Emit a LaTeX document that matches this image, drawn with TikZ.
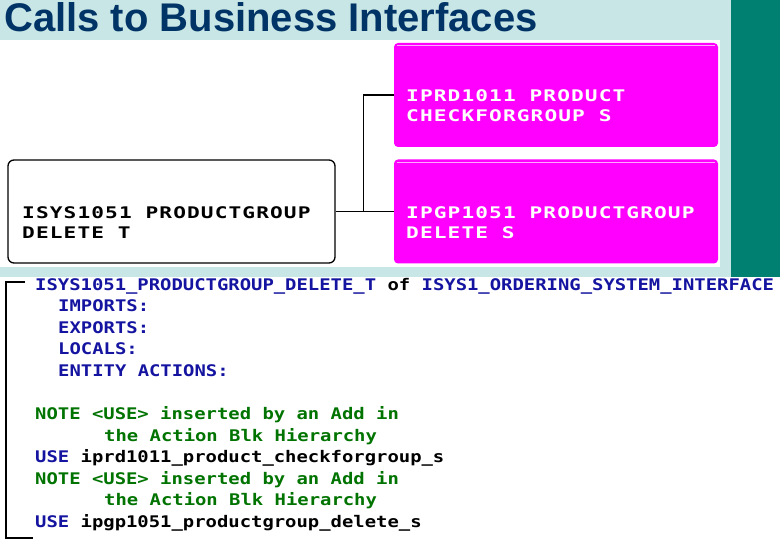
\documentclass[tikz,border=0pt]{standalone}
\usepackage{fontspec}
\usepackage{xcolor}
\setmainfont{Liberation Sans}
\newfontfamily\pixfont[FakeStretch=1.18]{DejaVu Sans Mono Bold}
\newfontfamily\pixwidefont[FakeStretch=1.32,LetterSpace=7]{DejaVu Sans Mono Bold}
\definecolor{bgcyan}{RGB}{200,230,230}
\definecolor{barteal}{RGB}{0,128,112}
\definecolor{titlenavy}{RGB}{0,51,102}
\definecolor{codeblue}{RGB}{20,20,160}
\definecolor{codegreen}{RGB}{0,115,0}
\definecolor{boxpink}{RGB}{255,0,255}
\definecolor{boxshine}{RGB}{255,170,255}
\usetikzlibrary{positioning}

\begin{document}
\begin{tikzpicture}[x=1pt, y=-1pt,
			tbox/.style={draw=black, line width=1.3pt, fill=white, rounded corners=6pt, minimum width=327pt, minimum height=103pt, inner sep=0pt},
			sbox/.style={fill=boxpink, rounded corners=4pt, minimum width=324pt, minimum height=104pt, inner sep=0pt},
			boxlbl/.style={anchor=north west, align=left, inner sep=0pt, font=\pixwidefont\fontsize{16}{20}\selectfont},
			code/.style={anchor=base west, inner sep=0pt, font=\pixfont\fontsize{16}{20}\selectfont},
			link/.style={draw=black, line width=1.6pt},
			]
			\useasboundingbox (0,0) rectangle (780,540);
			% Background
			\fill[bgcyan] (0,0) rectangle (731,277);
			\fill[barteal] (731,0) rectangle (780,277);
			\fill[white] (0,40) rectangle (720,267);
			% Title
			\node[anchor=base west, inner sep=0pt, text=titlenavy, font=\bfseries\fontsize{40}{40}\selectfont] (title) at (4,32) {Calls to Business Interfaces};
			
			% Caller
			\node[tbox] (del) at (171.5,211.5) {};
			\node[boxlbl] (dellbl) at (22,206) {ISYS1051 PRODUCTGROUP\\DELETE T};
			% Called interfaces
			\node[sbox] (prd) at (556,95) {};
			\node[sbox] (pgp) at (556,211.5) {};
			\draw[boxshine, line width=1pt] ([xshift=3pt,yshift=-3pt]prd.north west) -- ([xshift=-3pt,yshift=-3pt]prd.north east);
			\draw[boxshine, line width=1pt] ([xshift=3pt,yshift=-3pt]pgp.north west) -- ([xshift=-3pt,yshift=-3pt]pgp.north east);
			\node[boxlbl, text=white] (prdlbl) at (406,89) {IPRD1011 PRODUCT\\CHECKFORGROUP S};
			\node[boxlbl, text=white] (pgplbl) at (406,206) {IPGP1051 PRODUCTGROUP\\DELETE S};
			
			% Calls
			\draw[link] (del.east) -- ++(28,0) coordinate (split) |- (prd.west);
			\draw[link] (split) -- (pgp.west);
			
			% Action block listing
			\draw[line width=1.3pt] (25,282) -| (6,538) -- (33,538);
			\node[code] (hdr) at (35,290.5) {\textcolor{codeblue}{ISYS1051\_PRODUCTGROUP\_DELETE\_T} of \textcolor{codeblue}{ISYS1\_ORDERING\_SYSTEM\_INTERFACE}};
			\node[code, text=codeblue] (imp) at (58,312) {IMPORTS:};
			\node[code, text=codeblue] (exp) at (58,333.5) {EXPORTS:};
			\node[code, text=codeblue] (loc) at (58,355) {LOCALS:};
			\node[code, text=codeblue] (ent) at (58,376.5) {ENTITY ACTIONS:};
			\node[code, text=codegreen] (noteA) at (35,419.5) {NOTE <USE> inserted by an Add in};
			\node[code, text=codegreen] (noteAb) at (104,441) {the Action Blk Hierarchy};
			\node[code] (useA) at (35,462.5) {\textcolor{codeblue}{USE} iprd1011\_product\_checkforgroup\_s};
			\node[code, text=codegreen] (noteB) at (35,484) {NOTE <USE> inserted by an Add in};
			\node[code, text=codegreen] (noteBb) at (104,505.5) {the Action Blk Hierarchy};
			\node[code] (useB) at (35,527) {\textcolor{codeblue}{USE} ipgp1051\_productgroup\_delete\_s};
		\end{tikzpicture}
\end{document}
